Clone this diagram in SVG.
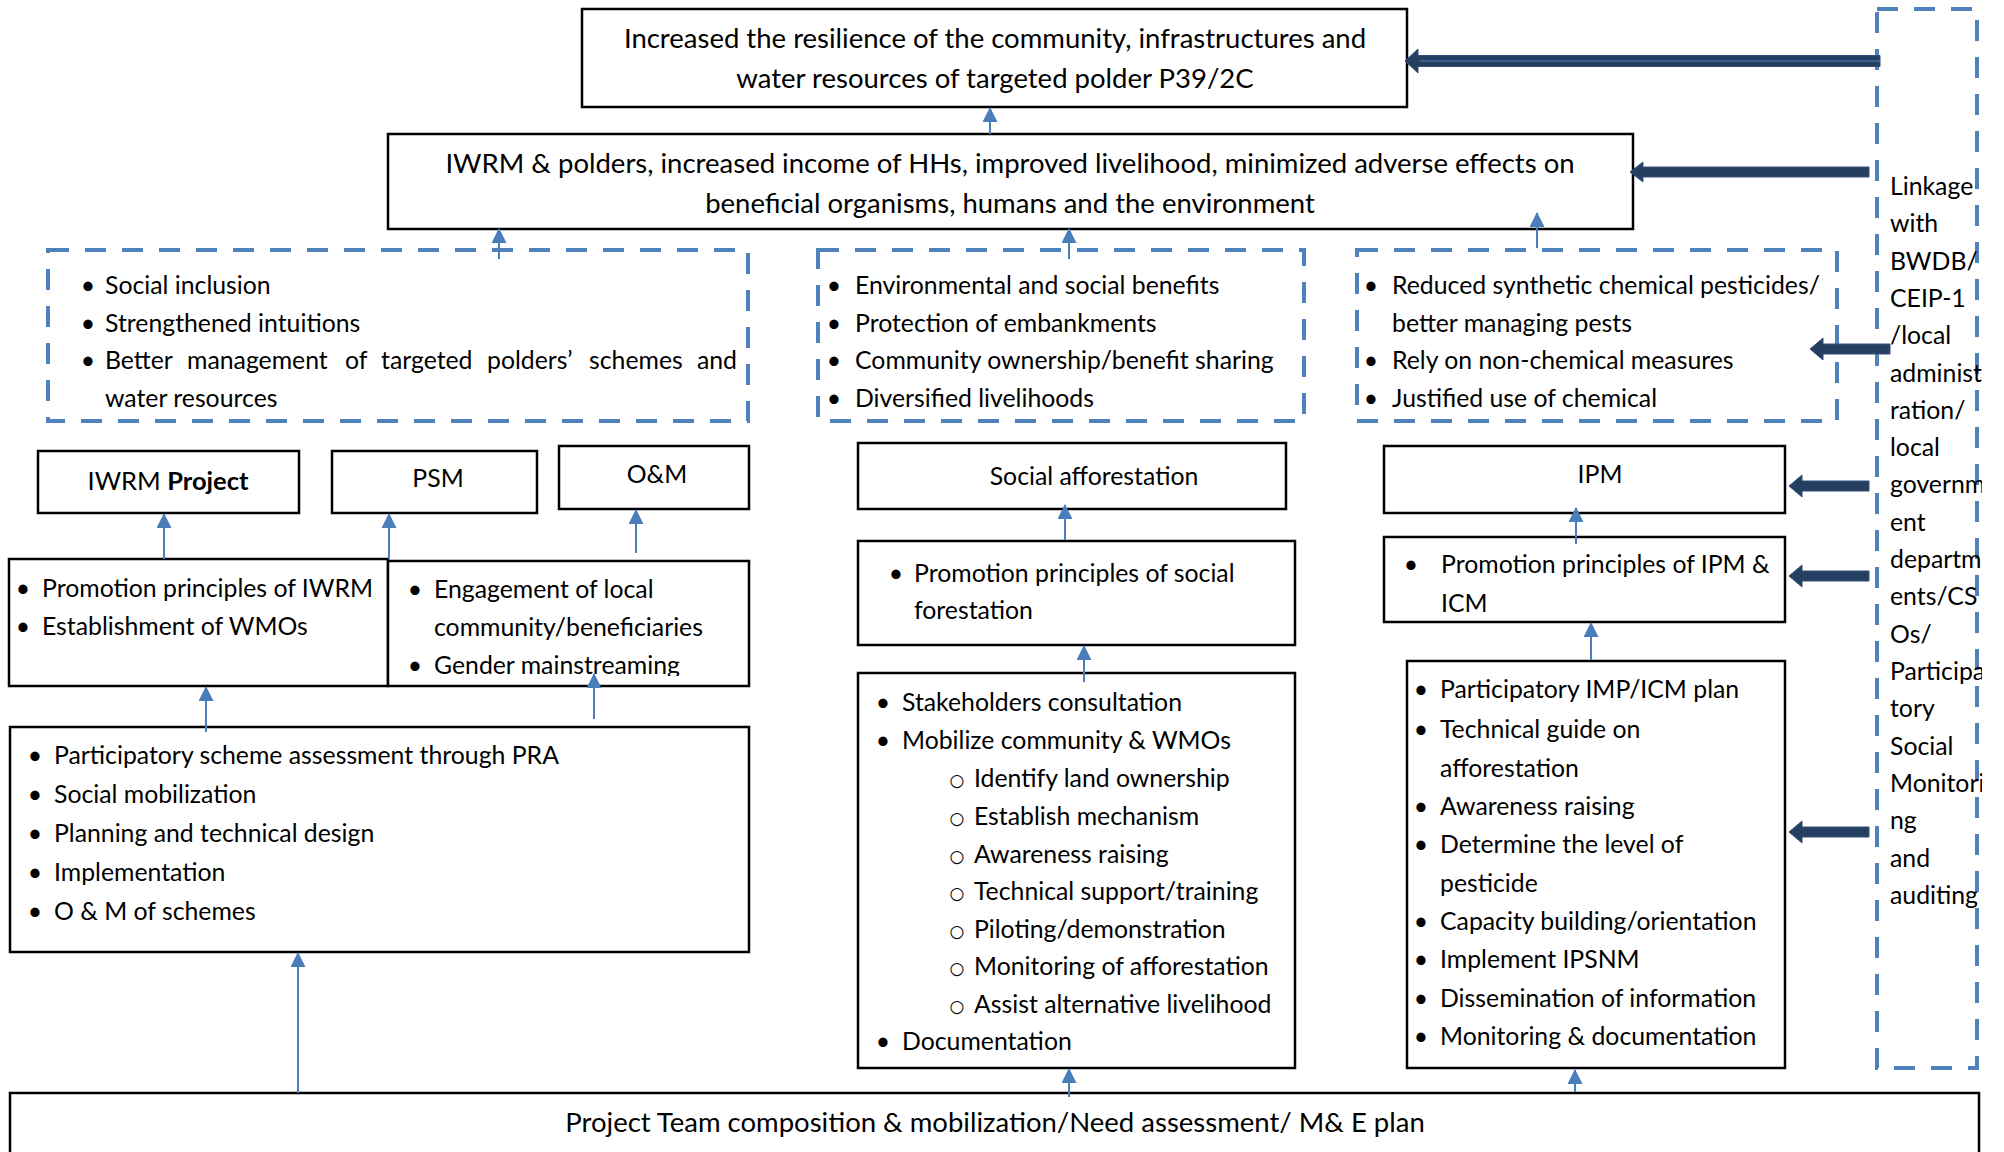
<svg xmlns="http://www.w3.org/2000/svg" width="2004" height="1152" viewBox="0 0 2004 1152">
<style>
.t{font-family:Lato,'Liberation Sans',sans-serif;font-size:24.8px;fill:#000}
.L{font-size:27.5px}
.c{text-anchor:middle}
.b{font-weight:bold}
.o{font-family:'DejaVu Sans',sans-serif;font-size:17px}
.bx{fill:#fff;stroke:#000;stroke-width:2.5}
.ds{fill:none;stroke:#4F81BD;stroke-width:4;stroke-dasharray:21 16}
.cn{stroke:#4A7EBB;stroke-width:2;fill:none;marker-end:url(#ah)}
.da{fill:#243F60;stroke:#34507A;stroke-width:1}
</style>
<defs>
<marker id="ah" markerUnits="userSpaceOnUse" markerWidth="16" markerHeight="16" refX="14" refY="7.5" orient="auto">
<path d="M0,0 L15,7.5 L0,15 z" fill="#4A7EBB"/>
</marker>
<clipPath id="clipLink"><rect x="1877" y="0" width="105" height="1152"/></clipPath>
<clipPath id="clipEng"><rect x="388" y="559" width="361" height="117"/></clipPath>
</defs>
<rect width="2004" height="1152" fill="#fff"/>

<g id="goal">
<rect class="bx" x="582" y="9" width="825" height="98"/>
<text class="t L c" x="995" y="48">Increased the resilience of the community, infrastructures and</text>
<text class="t L c" x="995" y="88">water resources of targeted polder P39/2C</text>
</g>

<g id="outcome">
<rect class="bx" x="388" y="134" width="1245" height="95"/>
<text class="t L c" x="1010" y="173">IWRM &amp; polders, increased income of HHs, improved livelihood, minimized adverse effects on</text>
<text class="t L c" x="1010" y="213">beneficial organisms, humans and the environment</text>
</g>

<g id="results-iwrm">
<rect class="ds" x="48" y="250" width="700" height="171"/>
<text class="t c" x="88" y="294">•</text>
<text class="t" x="105" y="294">Social inclusion</text>
<text class="t c" x="88" y="332">•</text>
<text class="t" x="105" y="332">Strengthened intuitions</text>
<text class="t c" x="88" y="369">•</text>
<text class="t" y="369"><tspan x="105">Better</tspan><tspan x="187">management</tspan><tspan x="345">of</tspan><tspan x="381">targeted</tspan><tspan x="487">polders’</tspan><tspan x="589">schemes</tspan></text>
<text class="t" x="737" y="369" text-anchor="end">and</text>
<text class="t" x="105" y="407">water resources</text>
</g>

<g id="results-sa">
<rect class="ds" x="818" y="250" width="486" height="171"/>
<text class="t c" x="834" y="294">•</text>
<text class="t" x="855" y="294">Environmental and social benefits</text>
<text class="t c" x="834" y="332">•</text>
<text class="t" x="855" y="332">Protection of embankments</text>
<text class="t c" x="834" y="369">•</text>
<text class="t" x="855" y="369">Community ownership/benefit sharing</text>
<text class="t c" x="834" y="407">•</text>
<text class="t" x="855" y="407">Diversified livelihoods</text>
</g>

<g id="results-ipm">
<rect class="ds" x="1357" y="250" width="480" height="171"/>
<text class="t c" x="1371" y="294">•</text>
<text class="t" x="1392" y="294">Reduced synthetic chemical pesticides/</text>
<text class="t" x="1392" y="332">better managing pests</text>
<text class="t c" x="1371" y="369">•</text>
<text class="t" x="1392" y="369">Rely on non-chemical measures</text>
<text class="t c" x="1371" y="407">•</text>
<text class="t" x="1392" y="407">Justified use of chemical</text>
</g>

<g id="linkage">
<rect class="ds" x="1877" y="9" width="100" height="1059"/>
<g clip-path="url(#clipLink)">
<text class="t" x="1890" y="195">Linkage</text>
<text class="t" x="1890" y="232">with</text>
<text class="t" x="1890" y="270">BWDB/</text>
<text class="t" x="1890" y="307">CEIP-1</text>
<text class="t" x="1890" y="344">/local</text>
<text class="t" x="1890" y="382">administ</text>
<text class="t" x="1890" y="419">ration/</text>
<text class="t" x="1890" y="456">local</text>
<text class="t" x="1890" y="493">governm</text>
<text class="t" x="1890" y="531">ent</text>
<text class="t" x="1890" y="568">departm</text>
<text class="t" x="1890" y="605">ents/CS</text>
<text class="t" x="1890" y="643">Os/</text>
<text class="t" x="1890" y="680">Participa</text>
<text class="t" x="1890" y="717">tory</text>
<text class="t" x="1890" y="755">Social</text>
<text class="t" x="1890" y="792">Monitori</text>
<text class="t" x="1890" y="829">ng</text>
<text class="t" x="1890" y="867">and</text>
<text class="t" x="1890" y="904">auditing</text>
</g>
</g>

<g id="iwrm-project">
<rect class="bx" x="38" y="451" width="261" height="62"/>
<text class="t c" x="168" y="490" style="font-size:25.5px">IWRM <tspan class="b">Project</tspan></text>
</g>

<g id="psm">
<rect class="bx" x="332" y="451" width="205" height="62"/>
<text class="t c" x="438" y="487">PSM</text>
</g>

<g id="om">
<rect class="bx" x="559" y="446" width="190" height="63"/>
<text class="t c" x="657" y="483">O&amp;M</text>
</g>

<g id="promo-iwrm">
<rect class="bx" x="9" y="559" width="379" height="127"/>
<text class="t c" x="23" y="597">•</text>
<text class="t" x="42" y="597">Promotion principles of IWRM</text>
<text class="t c" x="23" y="635">•</text>
<text class="t" x="42" y="635">Establishment of WMOs</text>
</g>

<g id="engagement">
<rect class="bx" x="388" y="561" width="361" height="125"/>
<g clip-path="url(#clipEng)">
<text class="t c" x="415" y="598">•</text>
<text class="t" x="434" y="598">Engagement of local</text>
<text class="t" x="434" y="636">community/beneficiaries</text>
<text class="t c" x="415" y="674">•</text>
<text class="t" x="434" y="674">Gender mainstreaming</text>
</g>
</g>

<g id="scheme-activities">
<rect class="bx" x="10" y="727" width="739" height="225"/>
<text class="t c" x="35" y="764">•</text>
<text class="t" x="54" y="764">Participatory scheme assessment through PRA</text>
<text class="t c" x="35" y="803">•</text>
<text class="t" x="54" y="803">Social mobilization</text>
<text class="t c" x="35" y="842">•</text>
<text class="t" x="54" y="842">Planning and technical design</text>
<text class="t c" x="35" y="881">•</text>
<text class="t" x="54" y="881">Implementation</text>
<text class="t c" x="35" y="920">•</text>
<text class="t" x="54" y="920">O &amp; M of schemes</text>
</g>

<g id="social-afforestation">
<rect class="bx" x="858" y="443" width="428" height="66"/>
<text class="t c" x="1094" y="485">Social afforestation</text>
</g>

<g id="promo-sf">
<rect class="bx" x="858" y="541" width="437" height="104"/>
<text class="t c" x="896" y="582">•</text>
<text class="t" x="914" y="582">Promotion principles of social</text>
<text class="t" x="914" y="619">forestation</text>
</g>

<g id="sf-activities">
<rect class="bx" x="858" y="673" width="437" height="395"/>
<text class="t c" x="883" y="711">•</text>
<text class="t" x="902" y="711">Stakeholders consultation</text>
<text class="t c" x="883" y="749">•</text>
<text class="t" x="902" y="749">Mobilize community &amp; WMOs</text>
<text class="t o c" x="957" y="786">○</text>
<text class="t" x="974" y="787">Identify land ownership</text>
<text class="t o c" x="957" y="824">○</text>
<text class="t" x="974" y="825">Establish mechanism</text>
<text class="t o c" x="957" y="862">○</text>
<text class="t" x="974" y="863">Awareness raising</text>
<text class="t o c" x="957" y="899">○</text>
<text class="t" x="974" y="900">Technical support/training</text>
<text class="t o c" x="957" y="937">○</text>
<text class="t" x="974" y="938">Piloting/demonstration</text>
<text class="t o c" x="957" y="974">○</text>
<text class="t" x="974" y="975">Monitoring of afforestation</text>
<text class="t o c" x="957" y="1012">○</text>
<text class="t" x="974" y="1013">Assist alternative livelihood</text>
<text class="t c" x="883" y="1050">•</text>
<text class="t" x="902" y="1050">Documentation</text>
</g>

<g id="ipm">
<rect class="bx" x="1384" y="446" width="401" height="67"/>
<text class="t c" x="1600" y="483">IPM</text>
</g>

<g id="promo-ipm">
<rect class="bx" x="1384" y="537" width="401" height="85"/>
<text class="t c" x="1411" y="573">•</text>
<text class="t" x="1441" y="573">Promotion principles of IPM &amp;</text>
<text class="t" x="1441" y="612">ICM</text>
</g>

<g id="ipm-activities">
<rect class="bx" x="1407" y="661" width="378" height="407"/>
<text class="t c" x="1421" y="698">•</text>
<text class="t" x="1440" y="698">Participatory IMP/ICM plan</text>
<text class="t c" x="1421" y="738">•</text>
<text class="t" x="1440" y="738">Technical guide on</text>
<text class="t" x="1440" y="777">afforestation</text>
<text class="t c" x="1421" y="815">•</text>
<text class="t" x="1440" y="815">Awareness raising</text>
<text class="t c" x="1421" y="853">•</text>
<text class="t" x="1440" y="853">Determine the level of</text>
<text class="t" x="1440" y="892">pesticide</text>
<text class="t c" x="1421" y="930">•</text>
<text class="t" x="1440" y="930">Capacity building/orientation</text>
<text class="t c" x="1421" y="968">•</text>
<text class="t" x="1440" y="968">Implement IPSNM</text>
<text class="t c" x="1421" y="1007">•</text>
<text class="t" x="1440" y="1007">Dissemination of information</text>
<text class="t c" x="1421" y="1045">•</text>
<text class="t" x="1440" y="1045">Monitoring &amp; documentation</text>
</g>

<g id="project-team">
<rect class="bx" x="10" y="1093" width="1969" height="80"/>
<text class="t L c" x="995" y="1132">Project Team composition &amp; mobilization/Need assessment/ M&amp; E plan</text>
</g>

<g id="connectors">
<line class="cn" x1="990" y1="134" x2="990" y2="108"/>
<line class="cn" x1="499" y1="259" x2="499" y2="229"/>
<line class="cn" x1="1069" y1="259" x2="1069" y2="229"/>
<line class="cn" x1="1537" y1="248" x2="1537" y2="213"/>
<line class="cn" x1="164" y1="559" x2="164" y2="514"/>
<line class="cn" x1="389" y1="559" x2="389" y2="514"/>
<line class="cn" x1="636" y1="553" x2="636" y2="510"/>
<line class="cn" x1="206" y1="732" x2="206" y2="687"/>
<line class="cn" x1="594" y1="719" x2="594" y2="674"/>
<line class="cn" x1="298" y1="1093" x2="298" y2="953"/>
<line class="cn" x1="1065" y1="540" x2="1065" y2="505"/>
<line class="cn" x1="1084" y1="682" x2="1084" y2="646"/>
<line class="cn" x1="1069" y1="1097" x2="1069" y2="1069"/>
<line class="cn" x1="1576" y1="544" x2="1576" y2="508"/>
<line class="cn" x1="1591" y1="660" x2="1591" y2="623"/>
<line class="cn" x1="1575" y1="1092" x2="1575" y2="1070"/>
<polygon class="da" points="1405,61 1418,49 1418,55.5 1880,55.5 1880,66.5 1418,66.5 1418,73"/>
<line x1="1420" y1="61" x2="1880" y2="61" stroke="#4F81BD" stroke-width="1"/>
<polygon class="da" points="1630,172 1643,162 1643,167 1869,167 1869,177 1643,177 1643,182"/>
<polygon class="da" points="1810,349 1823,338 1823,344 1890,344 1890,354 1823,354 1823,360"/>
<polygon class="da" points="1789,486 1802,475 1802,481 1869,481 1869,491 1802,491 1802,497"/>
<polygon class="da" points="1789,576 1802,565 1802,571 1869,571 1869,581 1802,581 1802,587"/>
<polygon class="da" points="1789,832 1802,821 1802,827 1869,827 1869,837 1802,837 1802,843"/>
</g>
</svg>
